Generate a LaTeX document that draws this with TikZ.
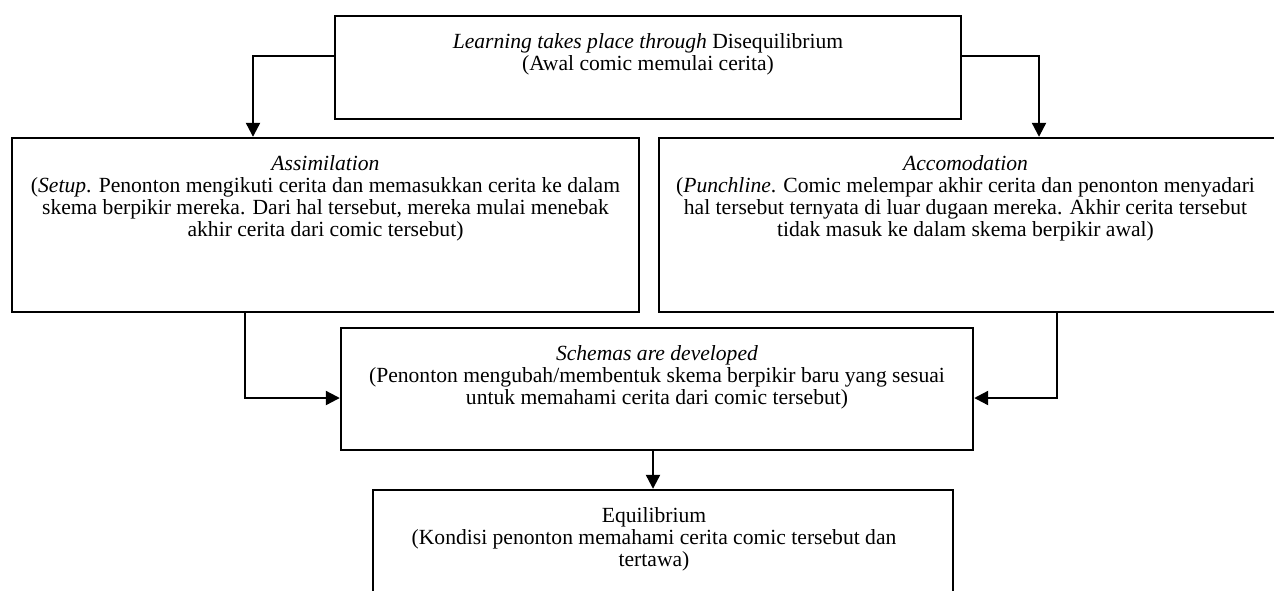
\documentclass[tikz,border=0pt]{standalone}
\usepackage{fontspec}
\setmainfont{Liberation Serif}
\usetikzlibrary{arrows.meta,positioning}
\newlength{\rulew}
\setlength{\rulew}{1.2pt}

\begin{document}
\begin{tikzpicture}[x=0.5pt,y=-0.5pt,
    box/.style={draw,line width=\rulew,inner sep=0pt},
    txt/.style={align=center,inner sep=0pt,font=\fontsize{10.8}{11}\selectfont},
    arr/.style={line width=1.1pt,-{Triangle[length=7pt,width=7pt]}}]
            \useasboundingbox (0,0) rectangle (1274,590);
            \clip (0,0) rectangle (1274,590);
            \node[box,minimum width=313pt,minimum height=51.5pt] (diseq) at (648,67.5){};
            \node[box,minimum width=313.5pt,minimum height=87pt] (assim) at (325.5,225){};
            \node[box,minimum width=309.5pt,minimum height=87pt] (accom) at (968.5,225){};
            \node[box,minimum width=316pt,minimum height=61pt] (schema) at (657,389){};
            \node[box,minimum width=290pt,minimum height=65pt] (equil) at (663,555){};
            \node[txt,below=9pt of diseq.north] (diseqtxt) {\textit{Learning takes place through} Disequilibrium\\(Awal comic memulai cerita)};
            \node[txt,below=9pt of assim.north] (assimtxt) {\textit{Assimilation}\\(\textit{Setup}. Penonton mengikuti cerita dan memasukkan cerita ke dalam\\skema berpikir mereka. Dari hal tersebut, mereka mulai menebak\\akhir cerita dari comic tersebut)};
            \node[txt,below=9pt of accom.north,xshift=-1.5pt] (accomtxt) {\textit{Accomodation}\\(\textit{Punchline}. Comic melempar akhir cerita dan penonton menyadari\\hal tersebut ternyata di luar dugaan mereka. Akhir cerita tersebut\\tidak masuk ke dalam skema berpikir awal)};
            \node[txt,below=9pt of schema.north] (schematxt) {\textit{Schemas are developed}\\(Penonton mengubah/membentuk skema berpikir baru yang sesuai\\untuk memahami cerita dari comic tersebut)};
            \node[txt,below=9pt of equil.north,xshift=-4.5pt] (equiltxt) {Equilibrium\\(Kondisi penonton memahami cerita comic tersebut dan\\tertawa)};
            \draw[arr] ([yshift=5.75pt]diseq.west) -| ([xshift=-36.25pt]assim.north);
            \draw[arr] ([yshift=5.75pt]diseq.east) -| ([xshift=35.25pt]accom.north);
            \draw[arr] ([xshift=-40.25pt]assim.south) |- ([yshift=-4.5pt]schema.west);
            \draw[arr] ([xshift=44.25pt]accom.south) |- ([yshift=-4.5pt]schema.east);
            \draw[arr] ([xshift=-2pt]schema.south) -- ([xshift=-5pt]equil.north);
\end{tikzpicture}
\end{document}
